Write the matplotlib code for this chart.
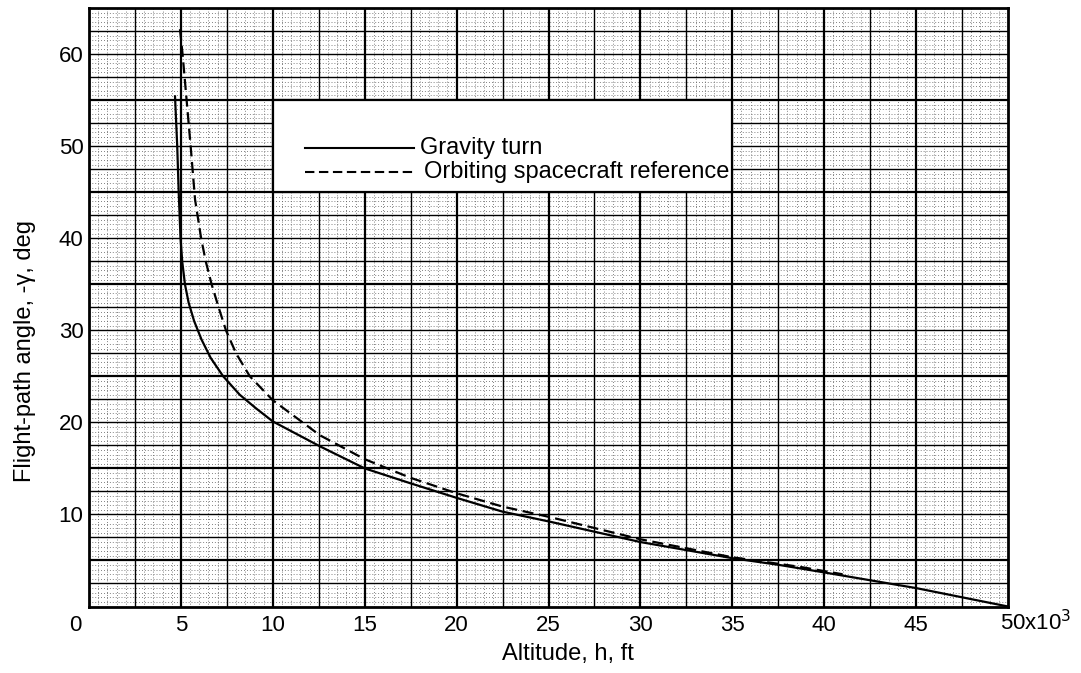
import matplotlib
matplotlib.use("Agg")
import matplotlib.pyplot as plt
import matplotlib.transforms as mtransforms
import numpy as np
from matplotlib.patches import Rectangle

plt.rcParams["font.family"] = ["Liberation Sans", "DejaVu Sans"]

# altitude in thousands of ft, flight-path angle (-gamma) in deg
gravity_h = [4.68, 4.8, 4.88, 4.98, 5.07, 5.22, 5.42, 5.72, 6.12, 6.62, 7.3, 8.2, 9.1,
             10.0, 12.56, 15.0, 17.46, 20.0, 22.5, 25.1, 30.0, 35.0, 37.6, 40.0, 45.0, 50.0]
gravity_gamma = [55.4, 50.0, 45.0, 40.0, 37.5, 35.0, 33.0, 31.0, 29.0, 27.0, 25.0, 23.0, 21.5,
                 20.1, 17.4, 15.0, 13.4, 11.8, 10.3, 9.2, 7.0, 5.25, 4.5, 3.7, 2.0, 0.0]

orbit_h = [4.95, 5.1, 5.53, 5.77, 6.1, 6.35, 6.67, 7.05, 7.45, 8.0, 8.75, 10.0, 12.56,
           15.0, 17.46, 20.0, 22.5, 25.1, 30.0, 35.0, 38.7, 41.0]
orbit_gamma = [62.7, 59.8, 50.0, 44.2, 40.0, 37.5, 35.0, 32.5, 30.0, 27.5, 25.0, 22.4, 18.6,
               16.0, 14.0, 12.3, 10.85, 9.7, 7.3, 5.35, 4.3, 3.5]

x_ticks = [0, 5, 10, 15, 20, 25, 30, 35, 40, 45]
x_ticklabels = ["0", "5", "10", "15", "20", "25", "30", "35", "40", "45"]
y_ticks = [10, 20, 30, 40, 50, 60]

series_labels = ["Gravity turn", "Orbiting spacecraft reference"]

fig = plt.figure(figsize=(10.81, 6.73), dpi=100)
ax = fig.add_axes([89 / 1081, 66.5 / 673, 919 / 1081, 598.5 / 673])
ax.set_xlim(0, 50)
ax.set_ylim(0, 65)

# graph paper: dotted fine rulings, medium and heavy lines
for v in np.arange(0.5, 50, 0.5):
    ax.axvline(v, color="0.35", lw=0.6, ls=(0, (1, 2.5)), zorder=1)
for v in np.arange(0.5, 65, 0.5):
    ax.axhline(v, color="0.35", lw=0.6, ls=(0, (1, 2.5)), zorder=1)
for v in np.arange(2.5, 50, 2.5):
    heavy = abs(v % 5) < 1e-9
    ax.axvline(v, color="black", lw=1.6 if heavy else 1.0, zorder=2)
for v in np.arange(2.5, 65, 2.5):
    heavy = abs((v - 5) % 10) < 1e-9
    ax.axhline(v, color="black", lw=1.6 if heavy else 1.0, zorder=2)

for s in ax.spines.values():
    s.set_linewidth(2.0)
    s.set_zorder(5)

# key box sitting on the grid
ax.add_patch(Rectangle((10, 45), 25, 10, facecolor="white", edgecolor="black",
                       lw=1.6, zorder=3))
ax.plot([11.75, 17.7], [49.8, 49.8], color="black", lw=1.5, zorder=4)
ax.text(18.0, 49.8, series_labels[0], fontsize=17, va="center", ha="left", zorder=4)
ax.plot([11.75, 17.7], [47.2, 47.2], color="black", lw=1.5, dashes=(4.5, 2.2), zorder=4)
ax.text(18.2, 47.2, series_labels[1], fontsize=17, va="center", ha="left", zorder=4)

ax.plot(gravity_h, gravity_gamma, color="black", lw=1.6, zorder=4)
ax.plot(orbit_h, orbit_gamma, color="black", lw=1.6, dashes=(5, 2.5), zorder=4)

ax.set_xticks(x_ticks)
ax.set_xticklabels(x_ticklabels)
ax.set_yticks(y_ticks)
ax.tick_params(length=0, labelsize=16)
ax.tick_params(axis="x", pad=6)
ax.tick_params(axis="y", pad=4)

# the zero label sits left of the corner
zero = ax.get_xticklabels()[0]
zero.set_transform(zero.get_transform() +
                   mtransforms.ScaledTranslation(-14 / 100, 0, fig.dpi_scale_trans))

ax.text(49.55, -2.55, "50x10$^3$", fontsize=16, ha="left", va="baseline")

fig.text(568 / 1081, 1 - 654 / 673, "Altitude, h, ft", fontsize=17,
         ha="center", va="center")
fig.text(25 / 1081, 1 - 351 / 673, "Flight-path angle, -\u03b3, deg", fontsize=17,
         ha="center", va="center", rotation=90)

fig.savefig("out.png", dpi=100, facecolor="white")
